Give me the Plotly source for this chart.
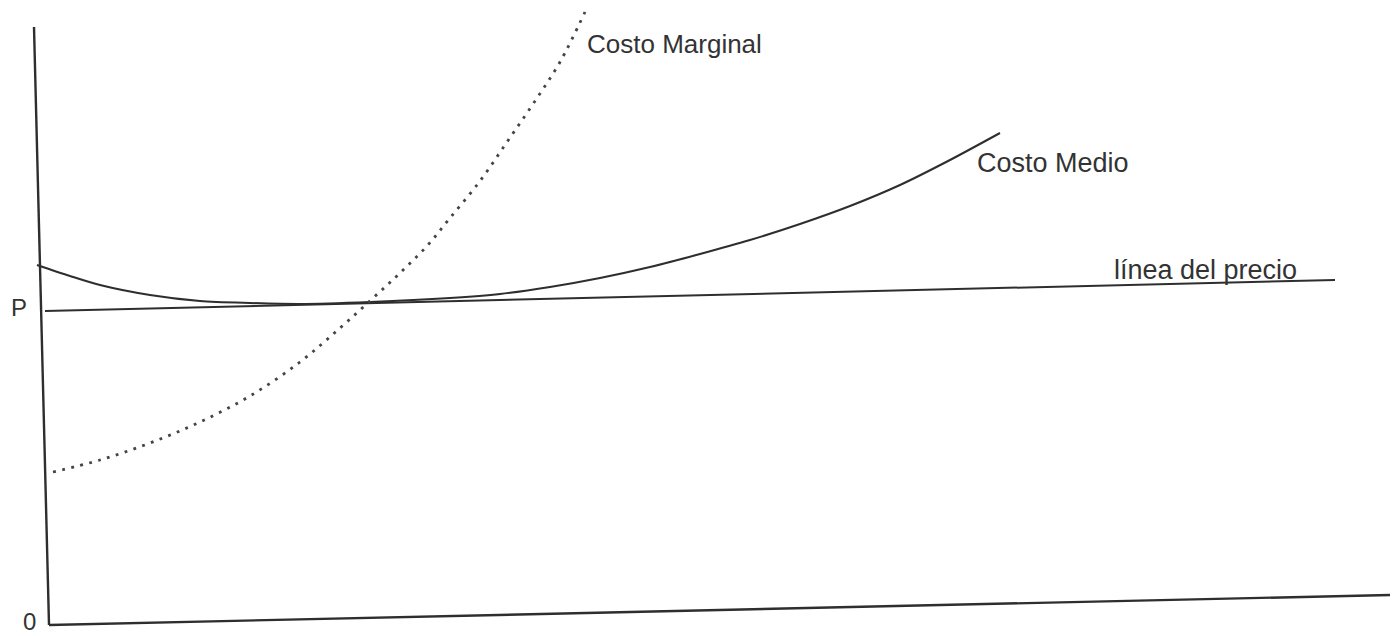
import plotly.graph_objects as go

# Values (x = quantity units, y = cost units, origin bottom-left)
H = 636

# Axes (drawn by hand in the original, slightly skewed by the scan)
yaxis_x = [34, 49]
yaxis_y = [H - 27, H - 625]
xaxis_x = [49, 1390]
xaxis_y = [H - 625, H - 595]

# Price line
price_x = [45, 1335]
price_y = [H - 311, H - 280]

# Costo Medio (average cost)
cme_x = [37, 70, 100, 150, 200, 250, 300, 370, 450, 500, 550, 600, 650, 700, 750, 800, 850, 900, 950, 1000]
cme_y = [H - v for v in [265, 276, 285, 295, 301, 303, 304, 302, 298, 294, 287, 278, 267, 254, 240, 224, 206, 185, 160, 133]]

# Costo Marginal (marginal cost)
cmg_x = [53, 100, 150, 200, 250, 300, 340, 372, 400, 427, 450, 480, 507, 533, 560, 585]
cmg_y = [H - v for v in [472, 460, 443, 422, 396, 362, 328, 299, 273, 246, 218, 181, 142, 104, 62, 12]]

ink = "#2e2e2e"
fig = go.Figure()
fig.add_trace(go.Scatter(x=yaxis_x, y=yaxis_y, mode="lines", line=dict(color=ink, width=2.4)))
fig.add_trace(go.Scatter(x=xaxis_x, y=xaxis_y, mode="lines", line=dict(color=ink, width=2.4)))
fig.add_trace(go.Scatter(x=price_x, y=price_y, mode="lines", line=dict(color=ink, width=2)))
fig.add_trace(go.Scatter(x=cme_x, y=cme_y, mode="lines", line=dict(color=ink, width=2, shape="spline", smoothing=0.8)))
fig.add_trace(go.Scatter(x=cmg_x, y=cmg_y, mode="lines",
                         line=dict(color="#444444", width=2.8, shape="spline", smoothing=1, dash="2.8px,6.5px")))

fam = "Liberation Sans, Arial, sans-serif"
labels = [
    ("Costo Marginal", 585, H - 44, 26),
    ("Costo Medio", 975, H - 163, 27),
    ("línea del precio", 1112, H - 270, 27),
    ("P", 9, H - 307, 24),
    ("0", 21, H - 621, 24),
]
for t, x, y, s in labels:
    fig.add_annotation(x=x, y=y, text=t, showarrow=False, xanchor="left", yanchor="middle",
                       font=dict(family=fam, size=s, color="#333333"))

fig.update_layout(
    width=1400, height=636,
    margin=dict(l=0, r=0, t=0, b=0),
    paper_bgcolor="white", plot_bgcolor="white",
    showlegend=False,
    xaxis=dict(range=[0, 1400], visible=False, fixedrange=True),
    yaxis=dict(range=[0, H], visible=False, fixedrange=True),
)
fig.write_html("out.html", config={"displayModeBar": False},
               post_script="document.body.style.margin='0';")
